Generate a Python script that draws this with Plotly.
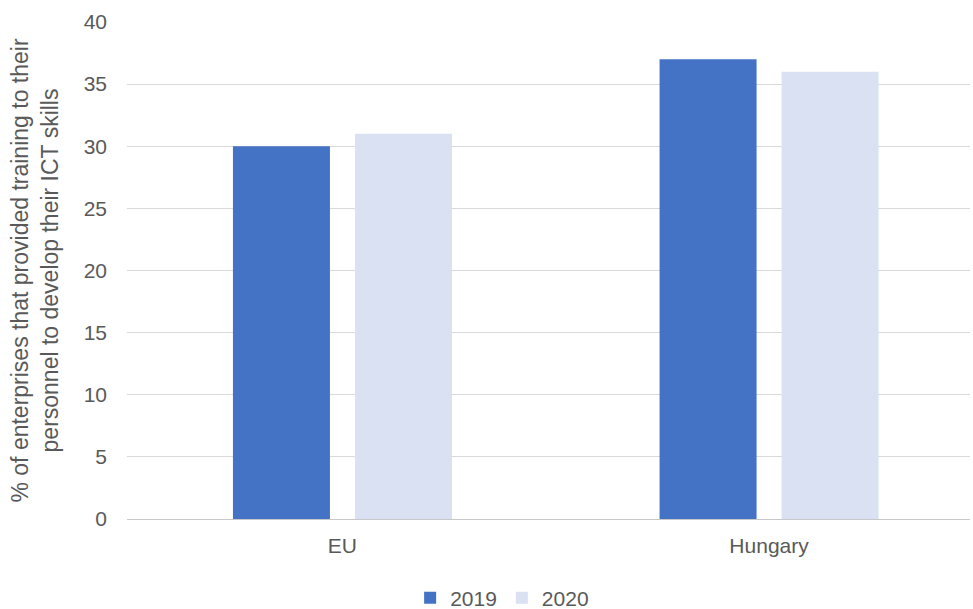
import plotly.graph_objects as go

regions = ["EU", "Hungary"]
share_2019 = [30, 37]
share_2020 = [31, 36]
y_ticks = [0, 5, 10, 15, 20, 25, 30, 35, 40]

font_family = "Liberation Sans, Arial, sans-serif"
grey = "#595959"

fig = go.Figure()
fig.add_trace(go.Bar(name="2019", x=regions, y=share_2019,
                     marker=dict(color="#4472C4", line=dict(width=0))))
fig.add_trace(go.Bar(name="2020", x=regions, y=share_2020,
                     marker=dict(color="#D9E1F2", line=dict(width=0))))

fig.update_layout(
    width=973, height=609,
    margin=dict(l=127, r=3, t=22, b=90, autoexpand=False),
    paper_bgcolor="white", plot_bgcolor="white",
    barmode="group", bargap=0.428, bargroupgap=0.205,
    font=dict(family=font_family, color=grey, size=21),
    legend=dict(orientation="h", x=0.445, xanchor="center", y=-0.159, yanchor="middle",
                font=dict(size=21, color=grey), itemwidth=30, traceorder="normal"),
    xaxis=dict(range=[-0.505, 1.471], showgrid=False, showline=False, zeroline=False,
               ticks="", tickfont=dict(size=21, color=grey), ticklabelstandoff=12),
    yaxis=dict(range=[0, 40], tickvals=y_ticks, showgrid=True, gridcolor="#D9D9D9",
               gridwidth=1, zeroline=True, zerolinecolor="#C8C8C8", zerolinewidth=1,
               showline=False, ticks="", tickfont=dict(size=21, color=grey),
               ticklabelstandoff=19,
               title=dict(text="% of enterprises that provided training to their<br>personnel to develop their ICT skills",
                          font=dict(size=23, color=grey), standoff=18)),
)

fig.write_html("out.html")
